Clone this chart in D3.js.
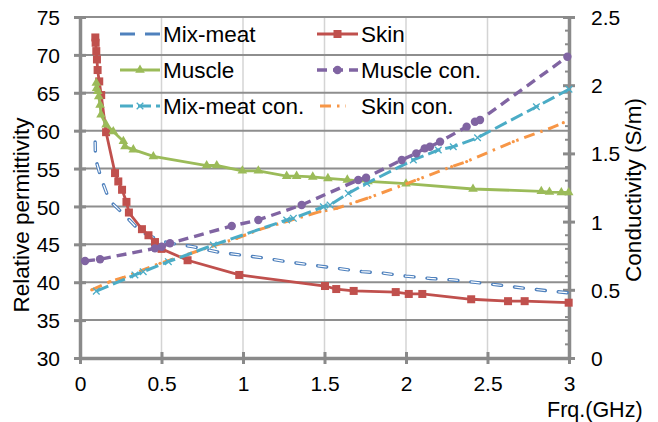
<!DOCTYPE html>
<html><head><meta charset="utf-8">
<script src="https://cdn.jsdelivr.net/npm/d3@7"></script>
<style>
body{margin:0;background:#fff}
svg{display:block}
text{font-family:"Liberation Sans",Arial,sans-serif;fill:#000}
</style>
</head><body>
<svg id="chart" width="658" height="422"></svg>
<script>
// ---------- data ----------
const xTicks = [0, 0.5, 1, 1.5, 2, 2.5, 3];
const leftTicks = [30, 35, 40, 45, 50, 55, 60, 65, 70, 75];
const rightTicks = [0, 0.5, 1, 1.5, 2, 2.5];
const xTitle = "Frq.(GHz)";
const leftTitle = "Relative permittivity";
const rightTitle = "Conductivity (S/m)";

const mixMeatFreq = [0.093,0.095,0.13,0.18,0.29,0.37,0.47,0.54,0.69,0.84,0.98,1.13,1.27,1.41,1.57,1.73,1.86,2.0,2.15,2.29,2.44,2.58,2.73,2.88,2.998];
const mixMeatPerm = [58.5,56.3,53.7,50.8,48.5,46.7,45.7,45.2,44.7,44.0,43.6,43.2,42.7,42.3,41.85,41.4,41.2,40.8,40.5,40.3,39.95,39.6,39.2,38.85,38.6];

const skinFreq = [0.094,0.096,0.1,0.104,0.108,0.118,0.13,0.16,0.215,0.235,0.258,0.285,0.3,0.38,0.42,0.46,0.5,0.66,0.977,1.503,1.572,1.679,1.937,2.017,2.1,2.4,2.626,2.728,2.998];
const skinPerm = [72.3,71.6,70.5,69.4,68.0,66.5,64.7,59.8,54.4,53.3,52.2,50.6,49.2,47.0,46.2,45.3,44.4,42.9,40.96,39.5,39.1,38.85,38.7,38.45,38.45,37.75,37.5,37.5,37.3];

const muscleFreq = [0.1,0.102,0.109,0.115,0.123,0.129,0.16,0.204,0.266,0.276,0.327,0.45,0.777,0.839,0.996,1.094,1.268,1.329,1.428,1.521,1.64,1.767,2.0,2.411,2.83,2.88,2.953,2.998];
const musclePerm = [66.3,65.6,65.2,64.5,63.4,62.1,60.8,59.9,58.6,57.9,57.5,56.6,55.4,55.4,54.7,54.7,54.0,54.0,53.9,53.7,53.5,53.3,53.0,52.3,52.0,51.9,51.85,51.85];

const muscleConFreq = [0.031,0.123,0.46,0.501,0.552,0.931,1.094,1.36,1.707,1.755,1.974,2.063,2.115,2.147,2.209,2.372,2.423,2.454,2.99];
const muscleCon = [0.711,0.724,0.804,0.816,0.841,0.968,1.012,1.122,1.305,1.322,1.452,1.5,1.537,1.549,1.586,1.696,1.732,1.745,2.209];

const mixMeatConFreq = [0.1,0.337,0.388,0.542,0.818,1.268,1.309,1.493,1.534,1.646,1.759,2.045,2.198,2.29,2.439,2.80,3.0];
const mixMeatCon = [0.49,0.609,0.633,0.706,0.828,1.012,1.024,1.109,1.122,1.207,1.281,1.452,1.525,1.549,1.615,1.842,1.97];

const skinConFreq = [0.072,0.184,0.266,0.491,0.961,1.104,1.472,1.575,1.698,1.779,2.075,2.28,2.372,2.658,2.883,2.965];
const skinCon = [0.5,0.56,0.59,0.694,0.877,0.943,1.073,1.097,1.146,1.178,1.31,1.403,1.44,1.586,1.684,1.725];

// ---------- layout ----------
const svg = d3.select("#chart");
const L = 80, R = 569, T = 17, B = 358;
const x = d3.scaleLinear().domain([0, 3]).range([L, R]);
const yL = d3.scaleLinear().domain([30, 75]).range([B, T]);
const yR = d3.scaleLinear().domain([0, 2.5]).range([B, T]);
const gridDark = "#8e8e8e", gridLight = "#d4d4d4", axisCol = "#8a8a8a";

// vertical light grid
svg.append("g").selectAll("line").data(xTicks.filter(d => d > 0 && d < 3)).join("line")
  .attr("x1", d => x(d)).attr("x2", d => x(d)).attr("y1", T).attr("y2", B)
  .attr("stroke", gridLight).attr("stroke-width", 1.5);
// horizontal dark grid
svg.append("g").selectAll("line").data(leftTicks.filter(d => d > 30)).join("line")
  .attr("x1", L).attr("x2", R).attr("y1", d => yL(d)).attr("y2", d => yL(d))
  .attr("stroke", gridDark).attr("stroke-width", 2);

// axes
function styleAxis(g) {
  g.select(".domain").attr("stroke", axisCol).attr("stroke-width", 3.5);
  g.selectAll(".tick line").attr("stroke", axisCol).attr("stroke-width", 3);
  g.selectAll(".tick text").attr("font-size", "21px").attr("fill", "#000");
}
const gL = svg.append("g").attr("transform", `translate(${L},0)`)
  .call(d3.axisLeft(yL).tickValues(leftTicks).tickSize(6).tickSizeOuter(0).tickPadding(14).tickFormat(d3.format("d")));
styleAxis(gL);
gL.selectAll(".tick line").attr("x1", 6).attr("x2", -6);
gL.selectAll(".tick text").attr("dy", "0.36em");

const gB = svg.append("g").attr("transform", `translate(0,${B})`)
  .call(d3.axisBottom(x).tickValues(xTicks).tickSize(6).tickSizeOuter(0).tickPadding(8).tickFormat(d => String(d)));
styleAxis(gB);
gB.selectAll(".tick line").attr("y1", -6).attr("y2", 6);
gB.selectAll(".tick text").attr("dy", "0.9em");

const gR = svg.append("g").attr("transform", `translate(${R},0)`)
  .call(d3.axisRight(yR).tickValues(rightTicks).tickSize(6).tickSizeOuter(0).tickPadding(16).tickFormat(d => String(d)));
styleAxis(gR);
gR.selectAll(".tick line").attr("x1", -6).attr("x2", 6);
gR.selectAll(".tick text").attr("dy", "0.36em");
// right minor ticks
svg.append("g").selectAll("line").data(d3.range(0.1, 2.5, 0.1).filter(v => Math.abs(v * 2 - Math.round(v * 2)) > 0.01)).join("line")
  .attr("x1", R - 4).attr("x2", R).attr("y1", d => yR(d)).attr("y2", d => yR(d))
  .attr("stroke", axisCol).attr("stroke-width", 2);

// titles
svg.append("text").attr("x", 547).attr("y", 417).attr("font-size", "21.5px").text(xTitle);
svg.append("text").attr("transform", "translate(29,215) rotate(-90)").attr("text-anchor", "middle")
  .attr("font-size", "22.5px").text(leftTitle);
svg.append("text").attr("transform", "translate(641,190) rotate(-90)").attr("text-anchor", "middle")
  .attr("font-size", "22.5px").text(rightTitle);

// ---------- series ----------
const colors = {mix: "#4f81bd", skin: "#c0504d", muscle: "#9bbb59", mcon: "#8064a2", mixcon: "#4bacc6", skincon: "#f79646"};
const lineL = d3.line().x(d => x(d[0])).y(d => yL(d[1]));
const lineR = d3.line().x(d => x(d[0])).y(d => yR(d[1]));
const zip = (a, b) => a.map((v, i) => [v, b[i]]);

const plot = svg.append("g");

// Mix-meat (hollow dashes)
const mixData = zip(mixMeatFreq, mixMeatPerm);
plot.append("path").attr("d", lineL(mixData)).attr("fill", "none").attr("stroke", colors.mix)
  .attr("stroke-width", 3.4).attr("stroke-dasharray", "9,13").attr("stroke-linecap", "round");
plot.append("path").attr("d", lineL(mixData)).attr("fill", "none").attr("stroke", "#fff")
  .attr("stroke-width", 1.2).attr("stroke-dasharray", "9,13");

// Skin
const skinData = zip(skinFreq, skinPerm);
plot.append("path").attr("d", lineL(skinData)).attr("fill", "none").attr("stroke", colors.skin).attr("stroke-width", 2.8);
plot.append("g").selectAll("rect").data(skinData).join("rect")
  .attr("x", d => x(d[0]) - 4).attr("y", d => yL(d[1]) - 4).attr("width", 8).attr("height", 8).attr("fill", colors.skin);

// Muscle
const muscleData = zip(muscleFreq, musclePerm);
plot.append("path").attr("d", lineL(muscleData)).attr("fill", "none").attr("stroke", colors.muscle).attr("stroke-width", 2.8);
const tri = d3.symbol().type(d3.symbolTriangle).size(40);
plot.append("g").selectAll("path").data(muscleData).join("path")
  .attr("d", tri).attr("transform", d => `translate(${x(d[0])},${yL(d[1])})`).attr("fill", colors.muscle);

// Skin con.
const skinConData = zip(skinConFreq, skinCon);
plot.append("path").attr("d", lineR(skinConData)).attr("fill", "none").attr("stroke", colors.skincon)
  .attr("stroke-width", 3).attr("stroke-dasharray", "11,6,2.5,6");
plot.append("g").selectAll("circle").data(skinConData).join("circle")
  .attr("cx", d => x(d[0])).attr("cy", d => yR(d[1])).attr("r", 1.6).attr("fill", colors.skincon);

// Mix-meat con.
const mixConData = zip(mixMeatConFreq, mixMeatCon);
plot.append("path").attr("d", lineR(mixConData)).attr("fill", "none").attr("stroke", colors.mixcon)
  .attr("stroke-width", 3).attr("stroke-dasharray", "13,5");
plot.append("g").selectAll("path").data(mixConData).join("path")
  .attr("d", d3.symbol().type(d3.symbolTimes).size(30))
  .attr("transform", d => `translate(${x(d[0])},${yR(d[1])})`).attr("fill", "none")
  .attr("stroke", colors.mixcon).attr("stroke-width", 1.3);

// Muscle con.
const mconData = zip(muscleConFreq, muscleCon);
plot.append("path").attr("d", lineR(mconData)).attr("fill", "none").attr("stroke", colors.mcon)
  .attr("stroke-width", 3.4).attr("stroke-dasharray", "10,6");
plot.append("g").selectAll("circle").data(mconData).join("circle")
  .attr("cx", d => x(d[0])).attr("cy", d => yR(d[1])).attr("r", 4.2).attr("fill", colors.mcon);

// ---------- legend ----------
const legendItems = [
  {name: "Mix-meat", col: 0, row: 0, key: "mix"},
  {name: "Skin", col: 1, row: 0, key: "skin"},
  {name: "Muscle", col: 0, row: 1, key: "muscle"},
  {name: "Muscle con.", col: 1, row: 1, key: "mcon"},
  {name: "Mix-meat con.", col: 0, row: 2, key: "mixcon"},
  {name: "Skin con.", col: 1, row: 2, key: "skincon"}
];
const colX = [[120, 160, 163], [317, 358, 361]];
const rowY = [34, 70, 106];
const leg = svg.append("g");
legendItems.forEach(it => {
  const [x1, x2, tx] = colX[it.col];
  const y = rowY[it.row];
  const g = leg.append("g");
  const c = colors[it.key];
  const ln = g.append("line").attr("x1", x1).attr("x2", x2).attr("y1", y).attr("y2", y).attr("stroke", c).attr("stroke-width", 3);
  const mx = (x1 + x2) / 2;
  if (it.key === "mix") ln.attr("stroke-dasharray", "15,10");
  if (it.key === "skin") g.append("rect").attr("x", mx - 4).attr("y", y - 4).attr("width", 8).attr("height", 8).attr("fill", c);
  if (it.key === "muscle") g.append("path").attr("d", tri).attr("transform", `translate(${mx},${y})`).attr("fill", c);
  if (it.key === "mcon") { ln.attr("stroke-dasharray", "10,6").attr("stroke-width", 3.4); g.append("circle").attr("cx", mx).attr("cy", y).attr("r", 4.2).attr("fill", c); }
  if (it.key === "mixcon") { ln.attr("stroke-dasharray", "13,5"); g.append("path").attr("d", d3.symbol().type(d3.symbolTimes).size(30)).attr("transform", `translate(${mx},${y})`).attr("fill", "none").attr("stroke", c).attr("stroke-width", 1.3); }
  if (it.key === "skincon") ln.attr("x1", x1 + 3).attr("x2", x2 - 12).attr("stroke-dasharray", "11,6,2.5,6");
  g.append("text").attr("x", tx).attr("y", y + 7.5).attr("font-size", "22.5px").text(it.name);
});
</script>
</body></html>
